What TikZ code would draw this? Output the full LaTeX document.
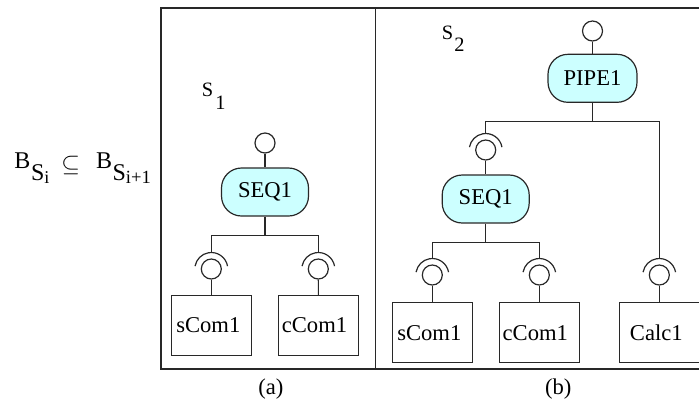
\documentclass[tikz,border=0pt]{standalone}
\usepackage{fontspec}
\setmainfont{Liberation Serif}
\definecolor{pillcyan}{RGB}{204,255,255}
\definecolor{ink}{RGB}{40,40,40}
\newcommand\lblfont{\fontsize{11.3}{13}\selectfont}
\newcommand\sfont{\fontsize{10.2}{12}\selectfont}
\newcommand\sockat[2]{%
  \node[port] (#1) at (#2) {};
  \draw[ln] ([shift={(10:8.25pt)}]#1.center) arc[start angle=10,end angle=170,radius=8.25pt];
  \coordinate (#1-t) at ([yshift=8.25pt]#1.center);}
\tikzset{
  ln/.style={draw=ink, line width=0.6pt},
  frame/.style={draw=ink, line width=0.6pt},
  pill/.style={draw=ink, line width=0.6pt, fill=pillcyan, rounded corners=10pt,
    minimum width=43.5pt, minimum height=24pt, inner sep=0pt, font=\lblfont},
  comp/.style={draw=ink, line width=0.6pt, minimum width=40pt, minimum height=30pt,
    inner sep=0pt, font=\lblfont},
  port/.style={circle, draw=ink, line width=0.6pt, minimum size=10pt, inner sep=0pt},
  lab/.style={inner sep=0pt, anchor=base west}
}
\begin{document}
\begin{tikzpicture}[x=0.5pt,y=-0.5pt]
\useasboundingbox (0,0) rectangle (699,403);
% frames
\draw[frame] (699,8) -- (161,8) -- (161,369) -- (699,369);
\draw[frame] (375.7,8) -- (375.7,369);
% formula
\node[lab] (form) at (14,168) {\fontsize{12}{14}\selectfont B\kern0.3pt\raisebox{-6pt}{S\raisebox{-1.5pt}{\fontsize{9}{10}\selectfont i}}\hspace{6pt}\raisebox{-1.5pt}{$\subseteq$}\hspace{8pt}B\kern0.3pt\raisebox{-6pt}{S\raisebox{-1.5pt}{\fontsize{9.3}{10}\selectfont i+1}}};
% panel labels
\node[lab] (s1) at (201.5,96.7) {\sfont S\kern1pt\raisebox{-6.6pt}{1}};
\node[lab] (s2) at (441.5,39) {\sfont S\kern0.6pt\raisebox{-6pt}{2}};
\node[inner sep=0pt, anchor=base, font=\lblfont] (capa) at (270.8,394) {(a)};
\node[inner sep=0pt, anchor=base, font=\lblfont] (capb) at (558.3,394) {(b)};
% ---------- panel (a)
\node[port] (pa0) at (265,143) {};
\node[pill] (seqa) at (265,192) {SEQ1};
\coordinate (ja) at (265,235.7);
\sockat{sa1}{211.3,269}
\sockat{sa2}{318.3,269}
\node[comp] (ca1) at (211.3,325.5) {\kern-1.5pt sCom1\kern1.5pt};
\node[comp] (ca2) at (318.5,325.5) {\kern-2pt cCom1\kern2pt};
\draw[ln] (pa0) -- (seqa);
\draw[ln] (seqa.south) -- (ja);
\draw[ln] (sa1-t) |- (ja) -| (sa2-t);
\draw[ln] (sa1) -- (ca1);
\draw[ln] (sa2) -- (ca2);
% ---------- panel (b)
\node[port] (pb0) at (592.5,31) {};
\node[pill, minimum width=44.5pt] (pipe) at (592.5,78.3) {PIPE1};
\coordinate (jb) at (592.5,121.7);
\sockat{sb1}{485.7,150}
\sockat{sb4}{659.3,275}
\node[pill] (seqb) at (485.7,199) {SEQ1};
\coordinate (jc) at (485.7,242.3);
\sockat{sb2}{432.3,275}
\sockat{sb3}{539.3,275}
\node[comp] (cb1) at (432.3,332.7) {\kern-1.5pt sCom1\kern1.5pt};
\node[comp] (cb2) at (539.3,332.7) {\kern-2pt cCom1\kern2pt};
\node[comp] (cb3) at (659.3,332.7) {\kern-1.5pt Calc1\kern1.5pt};
\draw[ln] (pb0) -- (pipe);
\draw[ln] (pipe.south) -- (jb);
\draw[ln] (sb1-t) |- (jb) -| (sb4-t);
\draw[ln] (sb1) -- (seqb);
\draw[ln] (seqb.south) -- (jc);
\draw[ln] (sb2-t) |- (jc) -| (sb3-t);
\draw[ln] (sb2) -- (cb1);
\draw[ln] (sb3) -- (cb2);
\draw[ln] (sb4) -- (cb3);
\end{tikzpicture}
\end{document}
